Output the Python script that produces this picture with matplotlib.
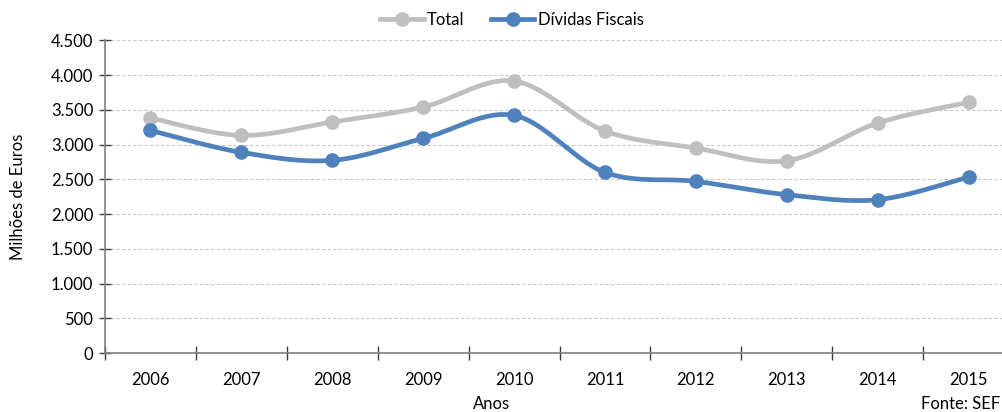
import numpy as np
import matplotlib.pyplot as plt

years = ['2006', '2007', '2008', '2009', '2010', '2011', '2012', '2013', '2014', '2015']
total = [3383, 3132, 3325, 3541, 3915, 3196, 2951, 2768, 3311, 3608]
dividas = [3204, 2888, 2773, 3089, 3420, 2600, 2470, 2279, 2207, 2533]

gray = '#BFBFBF'
blue = '#4F81BD'

plt.rcParams['font.family'] = ['Lato', 'DejaVu Sans']


# smooth line through the points, like the spreadsheet "smoothed line" option
def smooth(x, y, n=30):
	x = np.asarray(x, float)
	y = np.asarray(y, float)
	px = np.concatenate([[x[0]], x, [x[-1]]])
	py = np.concatenate([[y[0]], y, [y[-1]]])
	xs, ys = [], []
	t = np.linspace(0, 1, n)
	for i in range(1, len(px) - 2):
		p0 = np.array([px[i], py[i]])
		p3 = np.array([px[i + 1], py[i + 1]])
		p1 = p0 + (np.array([px[i + 1], py[i + 1]]) - np.array([px[i - 1], py[i - 1]])) / 6.0
		p2 = p3 - (np.array([px[i + 2], py[i + 2]]) - np.array([px[i], py[i]])) / 6.0
		b = ((1 - t) ** 3)[:, None] * p0 + (3 * (1 - t) ** 2 * t)[:, None] * p1 \
			+ (3 * (1 - t) * t ** 2)[:, None] * p2 + (t ** 3)[:, None] * p3
		xs.extend(b[:, 0])
		ys.extend(b[:, 1])
	return xs, ys


fig = plt.figure(figsize=(10.03, 4.12), dpi=100)
ax = fig.add_axes([105 / 1003, 59 / 412, 909 / 1003, 312.6 / 412])

pos = np.arange(len(years))
for vals, col, name in [(total, gray, 'Total'), (dividas, blue, 'Dívidas Fiscais')]:
	sx, sy = smooth(pos, vals)
	ax.plot(sx, sy, color=col, lw=3.4, solid_capstyle='round', zorder=3)
	ax.plot(pos, vals, 'o', color=col, ms=9.5, zorder=4)
	ax.plot([], [], color=col, lw=3.4, marker='o', ms=9.5, label=name)

ax.set_xlim(-0.5, 9.5)
ax.set_ylim(0, 4500)
ax.set_yticks(np.arange(0, 4501, 500))
ax.set_yticklabels(['{:,}'.format(v).replace(',', '.') for v in range(0, 4501, 500)], fontsize=12)
ax.set_xticks(pos)
ax.set_xticklabels(years, fontsize=12)
ax.set_xticks(np.arange(-0.5, 9.6, 1), minor=True)
ax.tick_params(axis='x', which='major', length=0, pad=14)
ax.tick_params(axis='x', which='minor', direction='inout', length=10, color='#404040', width=1)
ax.tick_params(axis='y', direction='inout', length=9, color='#404040', width=1, pad=4)

for v in range(500, 4501, 500):
	ax.axhline(v, color='#C8C8C8', lw=0.8, ls=(0, (3, 2)), zorder=1)

for s in ['top', 'right']:
	ax.spines[s].set_visible(False)
for s in ['left', 'bottom']:
	ax.spines[s].set_color('#7F7F7F')
	ax.spines[s].set_linewidth(1.2)

ax.set_ylabel('Milhões de Euros', fontsize=12)
ax.yaxis.set_label_coords((26 - 105) / 909, 0.5)
fig.text(492 / 1003, 1 - 404 / 412, 'Anos', ha='center', va='center', fontsize=12)
fig.text(1000 / 1003, 1 - 404 / 412, 'Fonte: SEF', ha='right', va='center', fontsize=12)

fig.legend(loc='center', bbox_to_anchor=(512 / 1003, 1 - 20 / 412), ncol=2, frameon=False,
	fontsize=12, handlelength=2.6, handletextpad=0.2, columnspacing=1.6)

plt.savefig('out.png', dpi=100)
plt.close()
